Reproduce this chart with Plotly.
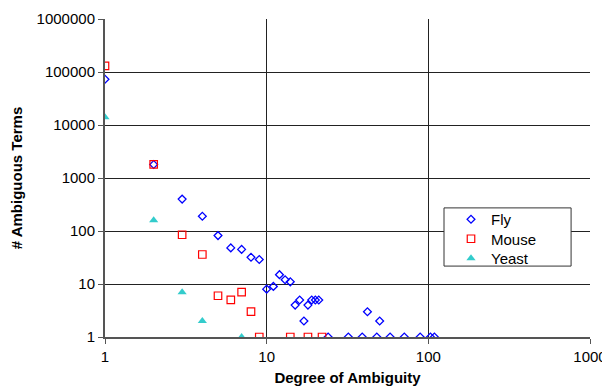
import plotly.graph_objects as go

fly_x = [1, 2, 3, 4, 5, 6, 7, 8, 9, 10, 11, 12, 13, 14, 15, 16, 17, 18, 19, 20, 21,
         24, 32, 39, 42, 48, 50, 58, 71, 89, 103, 109]
fly_y = [73000, 1800, 400, 190, 82, 48, 45, 32, 29, 8, 9, 15, 12, 11, 4, 5, 2, 4, 5, 5, 5,
         1, 1, 1, 3, 1, 2, 1, 1, 1, 1, 1]
mouse_x = [1, 2, 3, 4, 5, 6, 7, 8, 9, 14, 18, 22]
mouse_y = [130000, 1800, 85, 36, 6, 5, 7, 3, 1, 1, 1, 1]
yeast_x = [1, 2, 3, 4, 7]
yeast_y = [14000, 160, 7, 2, 1]

x_ticks = [1, 10, 100, 1000]
x_tick_labels = ["1", "10", "100", "1000"]
y_ticks = [1, 10, 100, 1000, 10000, 100000, 1000000]
y_tick_labels = ["1", "10", "100", "1000", "10000", "100000", "1000000"]

fig = go.Figure()
fig.add_trace(go.Scatter(x=fly_x, y=fly_y, mode="markers", name="Fly", legend="legend",
                         marker=dict(symbol="diamond-open", size=6, color="#0000FF",
                                     line=dict(width=1.3, color="#0000FF"))))
fig.add_trace(go.Scatter(x=mouse_x, y=mouse_y, mode="markers", name="Mouse", legend="legend2",
                         marker=dict(symbol="square-open", size=7.5, color="#FF0000",
                                     line=dict(width=1.2, color="#FF0000"))))
fig.add_trace(go.Scatter(x=yeast_x, y=yeast_y, mode="markers", name="Yeast", legend="legend3",
                         marker=dict(symbol="triangle-up", size=8, color="#33CCCC",
                                     line=dict(width=0))))

FAM = "Liberation Sans, Arial, sans-serif"
axis_font = dict(family=FAM, size=15, color="#000")
title_font = dict(family=FAM, size=15, color="#000")


def leg(ytop):
    return dict(x=0.7134, y=ytop, xanchor="left", yanchor="top",
                bgcolor="rgba(0,0,0,0)", borderwidth=0,
                font=dict(family=FAM, size=15, color="#000"),
                tracegroupgap=0, itemsizing="trace")


fig.update_layout(
    width=602, height=384,
    margin=dict(l=97, r=20, t=11, b=55),
    paper_bgcolor="white", plot_bgcolor="white",
    font=axis_font,
    xaxis=dict(type="log", range=[0, 3], tickvals=x_ticks, ticktext=x_tick_labels,
               showgrid=True, gridcolor="#222222", gridwidth=1,
               showline=True, linecolor="#555555", linewidth=2,
               ticks="outside", ticklen=5, tickcolor="#555555",
               tickfont=axis_font, zeroline=False, automargin=False,
               title=dict(text="<b>Degree of Ambiguity</b>", font=title_font, standoff=8)),
    yaxis=dict(type="log", range=[0, 6], tickvals=y_ticks, ticktext=y_tick_labels,
               showgrid=True, gridcolor="#222222", gridwidth=1,
               showline=True, linecolor="#555555", linewidth=2,
               ticks="outside", ticklen=5, tickcolor="#555555",
               tickfont=axis_font, zeroline=False, automargin=False,
               title=dict(text="<b># Ambiguous Terms</b>", font=title_font, standoff=12)),
    legend=leg(0.4214),
    legend2=leg(0.360),
    legend3=leg(0.2987),
    shapes=[dict(type="rect", xref="paper", yref="paper",
                 x0=0.699, x1=0.961, y0=0.223, y1=0.406,
                 line=dict(color="#333333", width=1), fillcolor="white", layer="above")],
    showlegend=True,
)

fig.write_html("out.html")
